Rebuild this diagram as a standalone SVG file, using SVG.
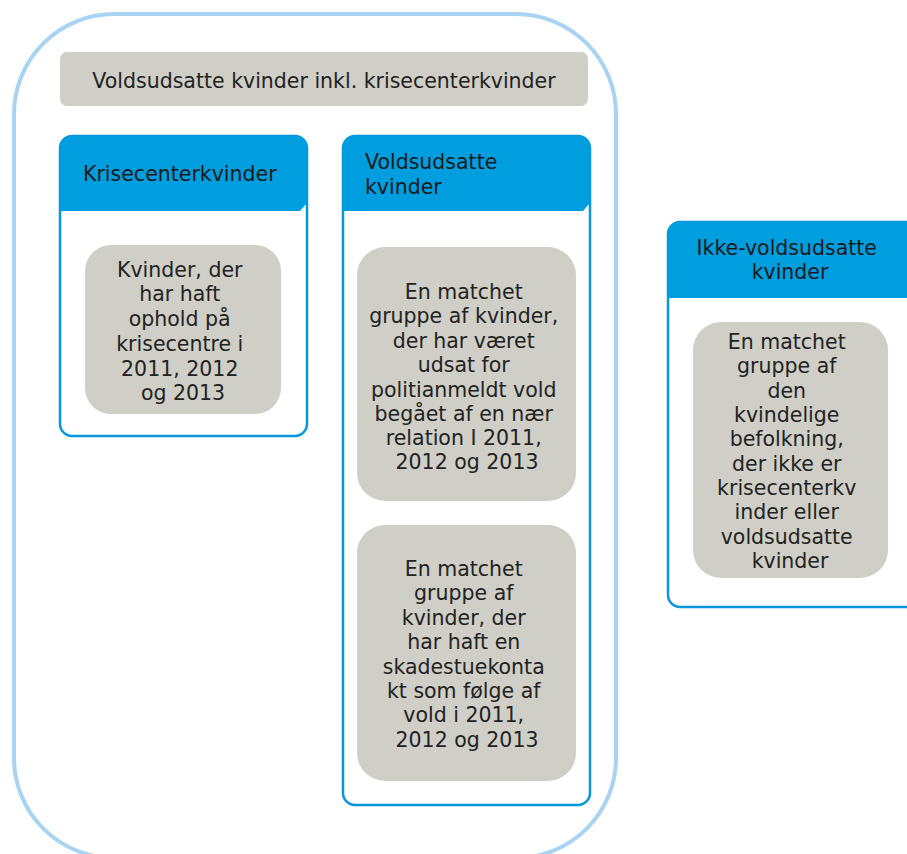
<svg xmlns="http://www.w3.org/2000/svg" width="907" height="854" viewBox="0 0 907 854">
<style>
.outer{fill:#fff;stroke:#a9d3f3;stroke-width:4}
.frame{fill:#fff;stroke:#0a96dc;stroke-width:2.5}
.head{fill:#009ddf}
.gray{fill:#d0cfc7}
.ht{font-family:"DejaVu Sans",Verdana,sans-serif;font-size:20.5px;fill:#1a1a1a}
.bt{font-family:"DejaVu Sans",Verdana,sans-serif;font-size:20.5px;fill:#222;text-anchor:middle}
.tt{font-family:"DejaVu Sans",Verdana,sans-serif;font-size:20.5px;fill:#222;text-anchor:middle}
</style>
<g id="outer-group">
<rect class="outer" x="14" y="14" width="602" height="844" rx="100" ry="100"/>
</g>
<g id="title">
<rect class="gray" x="60" y="52" width="528" height="54" rx="7"/>
<text class="tt" x="324" y="88">Voldsudsatte kvinder inkl. krisecenterkvinder</text>
</g>
<g id="krisecenterkvinder">
<rect class="frame" x="60" y="136" width="247" height="300" rx="12"/>
<path class="head" d="M60,211 V148 Q60,136 72,136 H295 Q307,136 307,148 V203 L300,211 Z"/>
<text class="ht" x="83" y="181">Krisecenterkvinder</text>
<rect class="gray" x="85" y="245" width="196" height="169" rx="26"/>
<text class="bt" x="183">
<tspan x="183" y="277">Kvinder, der</tspan>
<tspan x="183" y="301">har haft</tspan>
<tspan x="183" y="326">ophold på</tspan>
<tspan x="183" y="351">krisecentre i</tspan>
<tspan x="183" y="376">2011, 2012</tspan>
<tspan x="183" y="400">og 2013</tspan>
</text>
</g>
<g id="voldsudsatte">
<rect class="frame" x="343" y="136" width="247" height="669" rx="12"/>
<path class="head" d="M343,211 V148 Q343,136 355,136 H578 Q590,136 590,148 V203 L583,211 Z"/>
<text class="ht">
<tspan x="365" y="169">Voldsudsatte</tspan>
<tspan x="365" y="194">kvinder</tspan>
</text>
<rect class="gray" x="357" y="247" width="219" height="254" rx="28"/>
<text class="bt">
<tspan x="467" y="299">En matchet</tspan>
<tspan x="467" y="323">gruppe af kvinder,</tspan>
<tspan x="467" y="348">der har været</tspan>
<tspan x="467" y="372">udsat for</tspan>
<tspan x="467" y="397">politianmeldt vold</tspan>
<tspan x="467" y="421">begået af en nær</tspan>
<tspan x="467" y="445">relation I 2011,</tspan>
<tspan x="467" y="469">2012 og 2013</tspan>
</text>
<rect class="gray" x="357" y="525" width="219" height="256" rx="28"/>
<text class="bt">
<tspan x="467" y="576">En matchet</tspan>
<tspan x="467" y="600">gruppe af</tspan>
<tspan x="467" y="625">kvinder, der</tspan>
<tspan x="467" y="649">har haft en</tspan>
<tspan x="467" y="674">skadestuekonta</tspan>
<tspan x="467" y="698">kt som følge af</tspan>
<tspan x="467" y="722">vold i 2011,</tspan>
<tspan x="467" y="747">2012 og 2013</tspan>
</text>
</g>
<g id="ikke-voldsudsatte">
<rect class="frame" x="668" y="222" width="260" height="385" rx="12"/>
<path class="head" d="M668,298 V234 Q668,222 680,222 H930 V298 Z"/>
<text class="ht" text-anchor="middle">
<tspan x="790" y="255">Ikke-voldsudsatte</tspan>
<tspan x="790" y="279">kvinder</tspan>
</text>
<rect class="gray" x="693" y="322" width="195" height="256" rx="28"/>
<text class="bt">
<tspan x="790" y="349">En matchet</tspan>
<tspan x="790" y="373">gruppe af</tspan>
<tspan x="790" y="398">den</tspan>
<tspan x="790" y="422">kvindelige</tspan>
<tspan x="790" y="446">befolkning,</tspan>
<tspan x="790" y="471">der ikke er</tspan>
<tspan x="790" y="495">krisecenterkv</tspan>
<tspan x="790" y="519">inder eller</tspan>
<tspan x="790" y="544">voldsudsatte</tspan>
<tspan x="790" y="568">kvinder</tspan>
</text>
</g>
<g id="connectors"></g>
</svg>
